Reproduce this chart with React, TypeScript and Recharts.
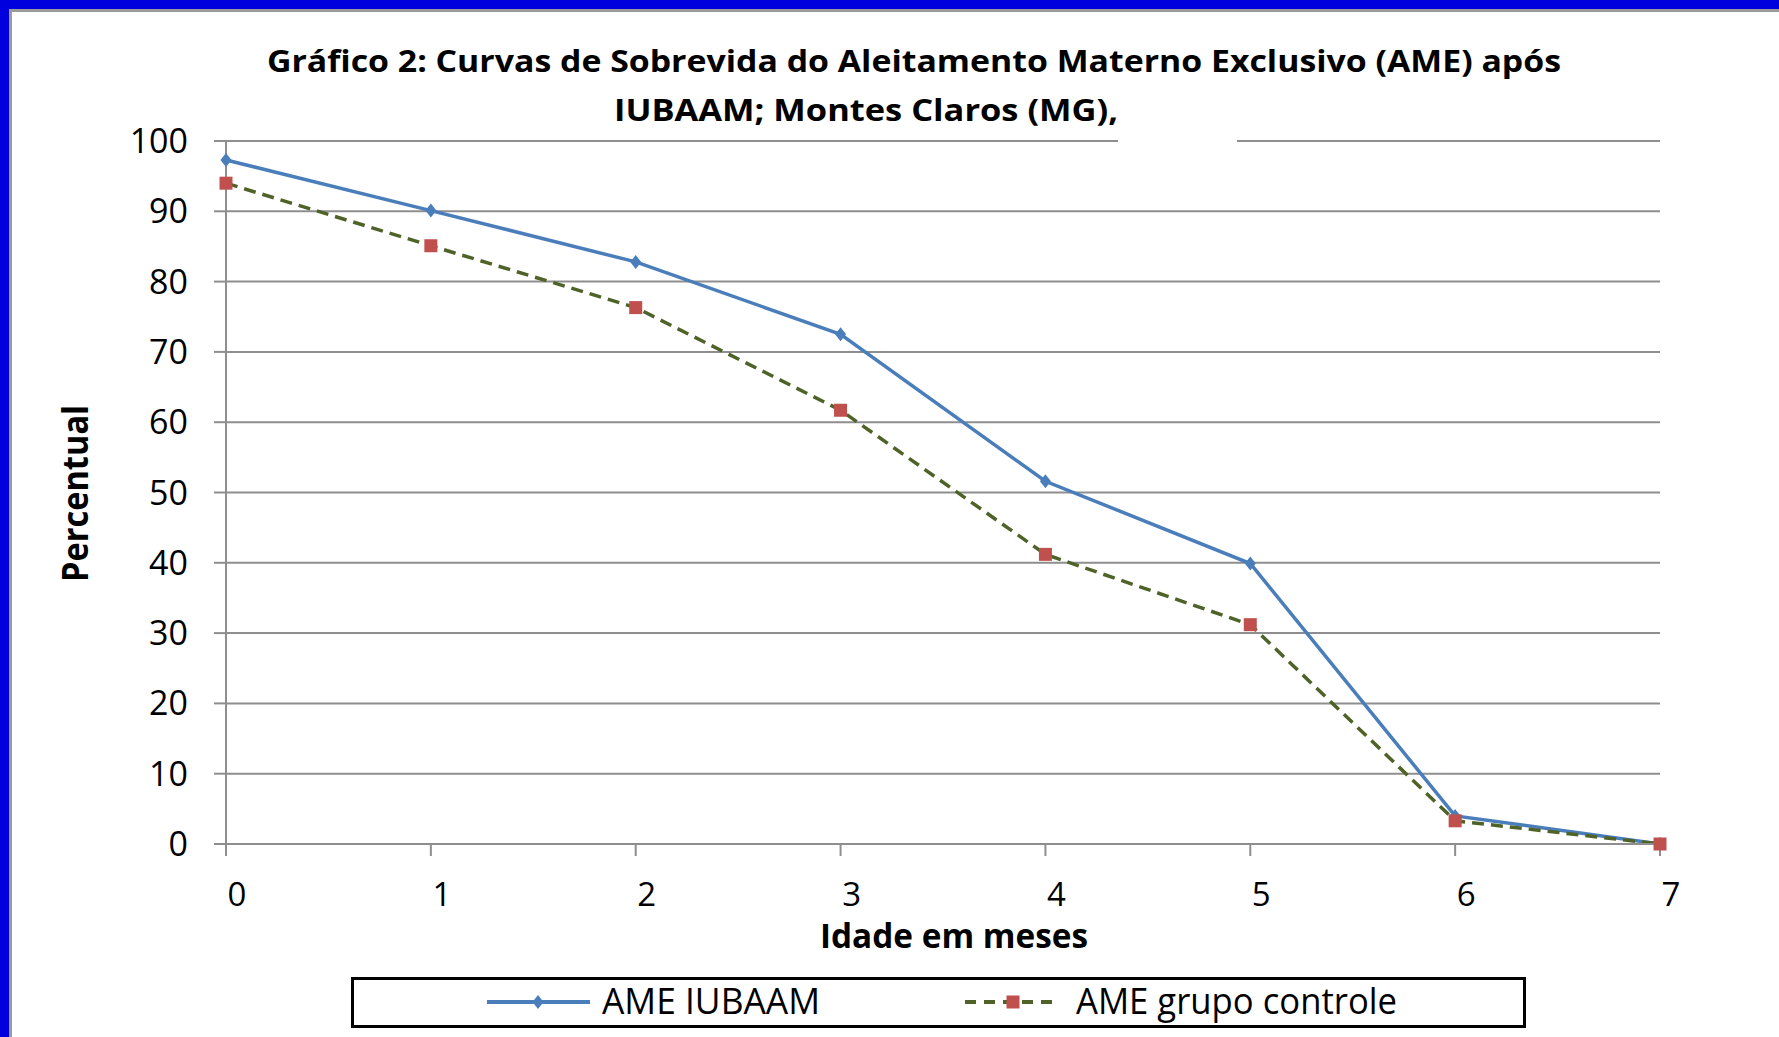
import { LineChart, Line, XAxis, YAxis, CartesianGrid } from "recharts";

/* ── Dados ── */
const meses = [0, 1, 2, 3, 4, 5, 6, 7];
const ameIubaam = [97.3, 90.1, 82.8, 72.5, 51.6, 39.9, 4.0, 0];
const ameControle = [94.0, 85.1, 76.3, 61.7, 41.2, 31.2, 3.3, 0];
const yTicks = [0, 10, 20, 30, 40, 50, 60, 70, 80, 90, 100];
const tituloLinha1 =
  "Gráfico 2: Curvas de Sobrevida do Aleitamento Materno Exclusivo (AME) após";
const tituloLinha2 = "IUBAAM; Montes Claros (MG),";
const nomeIubaam = "AME IUBAAM";
const nomeControle = "AME grupo controle";

const data = meses.map((m, i) => ({
  mes: m,
  iubaam: ameIubaam[i],
  controle: ameControle[i],
}));

const FONT = "'Open Sans', 'DejaVu Sans', sans-serif";
const BLUE = "#4A7EBB";
const RED = "#C0504D";
const OLIVE = "#4F6228";
const GRID = "#8e8e8e";

const Diamond = (props: any) => {
  const { cx, cy } = props;
  if (cx == null || cy == null) return null;
  return (
    <path
      d={`M${cx},${cy - 7} L${cx + 5.5},${cy} L${cx},${cy + 7} L${cx - 5.5},${cy} Z`}
      fill={BLUE}
    />
  );
};

const Square = (props: any) => {
  const { cx, cy } = props;
  if (cx == null || cy == null) return null;
  return <rect x={cx - 6.5} y={cy - 6.5} width={13} height={13} fill={RED} />;
};

const XTick = (props: any) => {
  const { x, y, payload } = props;
  return (
    <text x={x + 11} y={y + 48} textAnchor="middle" fontFamily={FONT} fontSize={33} fill="#000">
      {payload.value}
    </text>
  );
};

const YTick = (props: any) => {
  const { x, y, payload } = props;
  return (
    <text x={x - 24} y={y + 12} textAnchor="end" fontFamily={FONT} fontSize={34} fill="#000">
      {payload.value}
    </text>
  );
};

export default function App() {
  return (
    <div
      style={{
        position: "absolute",
        left: 0,
        top: 0,
        width: 1779,
        height: 1037,
        background: "#fff",
        overflow: "hidden",
      }}
    >
      {/* moldura azul */}
      <div style={{ position: "absolute", left: 0, top: 0, width: 1779, height: 9, background: "#0000DE" }} />
      <div style={{ position: "absolute", left: 0, top: 0, width: 9, height: 1037, background: "#0000DE" }} />
      <div style={{ position: "absolute", left: 9, top: 9, width: 1770, height: 3, background: "#9a9a9a" }} />
      <div style={{ position: "absolute", left: 9, top: 9, width: 3, height: 1028, background: "#9a9a9a" }} />

      <div style={{ position: "absolute", left: 0, top: 0 }}>
        <LineChart
          width={1779}
          height={1037}
          data={data}
          margin={{ top: 141, right: 119, left: 0, bottom: 0 }}
        >
          <CartesianGrid vertical={false} stroke={GRID} strokeWidth={2} />
          <XAxis
            dataKey="mes"
            type="number"
            domain={[0, 7]}
            ticks={meses}
            height={193}
            tickSize={12}
            axisLine={{ stroke: GRID, strokeWidth: 2 }}
            tickLine={{ stroke: GRID, strokeWidth: 2 }}
            tick={<XTick />}
          />
          <YAxis
            type="number"
            domain={[0, 100]}
            ticks={yTicks}
            width={226}
            tickSize={12}
            axisLine={{ stroke: GRID, strokeWidth: 2 }}
            tickLine={{ stroke: GRID, strokeWidth: 2 }}
            tick={<YTick />}
          />
          <Line
            type="linear"
            dataKey="iubaam"
            stroke={BLUE}
            strokeWidth={3.5}
            dot={<Diamond />}
            activeDot={false}
            isAnimationActive={false}
          />
          <Line
            type="linear"
            dataKey="controle"
            stroke={OLIVE}
            strokeWidth={3.5}
            strokeDasharray="12 7"
            dot={<Square />}
            activeDot={false}
            isAnimationActive={false}
          />
        </LineChart>
      </div>

      {/* títulos e legenda */}
      <svg
        width={1779}
        height={1037}
        style={{ position: "absolute", left: 0, top: 0, pointerEvents: "none" }}
      >
        <text x={267} y={72} fontFamily={FONT} fontWeight={700} fontSize={31} textLength={1294} lengthAdjust="spacingAndGlyphs" fill="#000">
          {tituloLinha1}
        </text>
        <text x={614} y={121} fontFamily={FONT} fontWeight={700} fontSize={31} textLength={504} lengthAdjust="spacingAndGlyphs" fill="#000">
          {tituloLinha2}
        </text>
        <rect x={1118} y={96} width={119} height={47} fill="#fff" />

        <text
          transform="translate(88,582) rotate(-90)"
          fontFamily={FONT}
          fontWeight={700}
          fontSize={35}
          textLength={177}
          lengthAdjust="spacingAndGlyphs"
          fill="#000"
        >
          Percentual
        </text>
        <text x={820} y={948} fontFamily={FONT} fontWeight={700} fontSize={34} textLength={268} lengthAdjust="spacingAndGlyphs" fill="#000">
          Idade em meses
        </text>

        <rect x={352.5} y={978.5} width={1172} height={48} fill="#fff" stroke="#000" strokeWidth={3} />
        <line x1={487} y1={1002} x2={590} y2={1002} stroke={BLUE} strokeWidth={4} />
        <Diamond cx={538} cy={1002} />
        <text x={602} y={1014} fontFamily={FONT} fontSize={37} textLength={218} lengthAdjust="spacingAndGlyphs" fill="#000">
          {nomeIubaam}
        </text>
        <line x1={965} y1={1002} x2={1057} y2={1002} stroke={OLIVE} strokeWidth={4} strokeDasharray="11 8" />
        <Square cx={1013} cy={1002} />
        <text x={1076} y={1014} fontFamily={FONT} fontSize={37} textLength={321} lengthAdjust="spacingAndGlyphs" fill="#000">
          {nomeControle}
        </text>
      </svg>
    </div>
  );
}
